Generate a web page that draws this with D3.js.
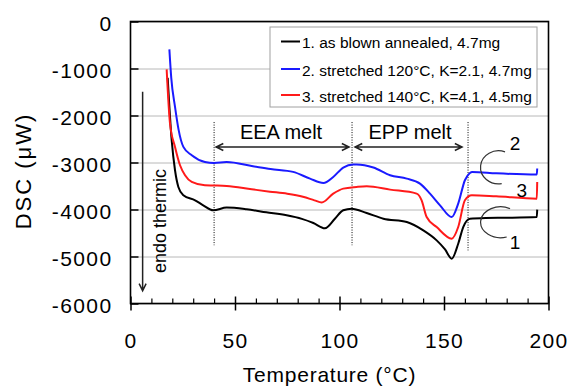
<!DOCTYPE html>
<html>
<head>
<meta charset="utf-8">
<script src="https://cdn.jsdelivr.net/npm/d3@7"></script>
<style>
    body { margin: 0; background: #fff; }
    svg { display: block; font-family: "Liberation Sans", Arial, Helvetica, sans-serif; }
</style>
</head>
<body>
<script>
// values (temperature in C, heat flow in uW)
const tempBlown = [17.8, 19.7, 21.3, 22.9, 25.3, 30.9, 34.8, 39.6, 46, 55.6, 65, 74.7, 82, 87.5, 93, 97.8, 101.8, 105.8, 113, 121, 132.2, 140.1, 146.5, 150.5, 153.7, 156.8, 159.2, 162.4, 170, 180, 194.4, 194.6];
const dscBlown = [-1200, -2525, -3165, -3520, -3698, -3804, -3911, -4017, -3960, -3996, -4060, -4124, -4200, -4288, -4400, -4195, -4017, -3982, -4075, -4195, -4266, -4444, -4657, -4850, -5047, -4728, -4373, -4195, -4180, -4175, -4160, -4003];

const temp120 = [18.6, 19.5, 21.3, 23, 25.3, 29.3, 35.6, 40, 46, 58.6, 67, 77.8, 85.9, 92.3, 97, 101.8, 106.6, 108.2, 116.2, 124.2, 132.2, 138.5, 143.3, 148.1, 153.7, 156.8, 160, 162.4, 163.5, 175, 194.4, 194.6];
const dsc120 = [-592, -1200, -1816, -2300, -2668, -2845, -2988, -3010, -2990, -3080, -3140, -3200, -3343, -3435, -3307, -3107, -3043, -3043, -3107, -3272, -3343, -3449, -3662, -3911, -4160, -3875, -3378, -3222, -3200, -3230, -3257, -3128];

const temp140 = [17.3, 18.9, 21.3, 23.7, 26.1, 29.3, 35.6, 40, 46, 58, 66.7, 75, 82.5, 88, 91.5, 97, 101.8, 108.2, 113, 124.2, 136.9, 139.3, 141.7, 146.5, 153.7, 156.8, 160, 163.3, 175, 194.4, 194.6];
const dsc140 = [-1019, -2170, -2668, -3058, -3272, -3414, -3485, -3490, -3500, -3570, -3620, -3665, -3730, -3805, -3850, -3662, -3556, -3520, -3506, -3577, -3662, -3804, -4160, -4373, -4620, -4373, -3804, -3698, -3720, -3769, -3414];

const xTicks = [0, 50, 100, 150, 200];
const yTicks = [0, -1000, -2000, -3000, -4000, -5000, -6000];
const legendLabels = ["1. as blown annealed, 4.7mg", "2. stretched 120\u00B0C, K=2.1, 4.7mg", "3. stretched 140\u00B0C, K=4.1, 4.5mg"];
const meltBounds = [40, 106, 161.5];
const meltLabels = ["EEA melt", "EPP melt"];
const curveLabels = ["2", "3", "1"];

const width = 570;
const height = 388;
const colors = ["#000000", "#1a1aff", "#ff1a1a"];

var svg = d3.select("body").append("svg")
    .attr("width", width)
    .attr("height", height);

var x = d3.scaleLinear().domain([0, 200]).range([130.5, 548.5]);
var y = d3.scaleLinear().domain([-6000, 0]).range([303.5, 21.5]);

// horizontal grid
var grid = svg.append("g")
    .attr("transform", "translate(" + x(0) + ",0)")
    .call(d3.axisLeft(y).tickValues(yTicks).tickSize(-(x(200) - x(0))).tickFormat(""));
grid.select(".domain").remove();
grid.selectAll("line").attr("stroke", "#b8b8b8").attr("stroke-width", 1);

// legend box sits over the grid
var legend = svg.append("g");
legend.append("rect")
    .attr("x", 270).attr("y", 27)
    .attr("width", 267).attr("height", 80)
    .attr("fill", "#fff")
    .attr("stroke", "#a0a0a0");

legendLabels.forEach(function(label, i) {
    let ly = [41.5, 69, 95][i];
    legend.append("line")
        .attr("x1", 281).attr("x2", 300)
        .attr("y1", ly).attr("y2", ly)
        .attr("stroke", colors[i]).attr("stroke-width", 2);
    legend.append("text")
        .attr("x", 302).attr("y", ly + 6.5)
        .attr("font-size", 15.5)
        .text(label);
});

// axes
var yAxis = svg.append("g")
    .attr("transform", "translate(" + x(0) + ",0)")
    .call(d3.axisLeft(y).tickValues(yTicks).tickSize(-8).tickPadding(18).tickFormat(function(d) { return String(d); }));
yAxis.select(".domain").remove();
yAxis.selectAll("line").attr("stroke", "#000").attr("stroke-width", 1.5);
yAxis.selectAll("text")
    .attr("font-size", 21).attr("letter-spacing", 1.4)
    .attr("dy", "0.42em")
    .attr("fill", "#000").attr("font-family", null);

var xAxis = svg.append("g")
    .attr("transform", "translate(0," + y(-6000) + ")")
    .call(d3.axisBottom(x).tickValues(xTicks).tickSize(7).tickPadding(23));
xAxis.select(".domain").remove();
xAxis.selectAll("line").attr("y1", -7).attr("stroke", "#000").attr("stroke-width", 1.5);
xAxis.selectAll("text")
    .attr("font-size", 21).attr("letter-spacing", 1.4)
    .attr("fill", "#000").attr("font-family", null);

var xMinor = svg.append("g")
    .attr("transform", "translate(0," + y(-6000) + ")")
    .call(d3.axisBottom(x).tickValues(d3.range(10, 200, 10).filter(function(t) { return t % 50 !== 0; })).tickSize(-5).tickFormat(""));
xMinor.select(".domain").remove();
xMinor.selectAll("line").attr("stroke", "#000").attr("stroke-width", 1.2);

svg.append("rect")
    .attr("x", x(0)).attr("y", y(0))
    .attr("width", x(200) - x(0)).attr("height", y(-6000) - y(0))
    .attr("fill", "none")
    .attr("stroke", "#000").attr("stroke-width", 1.6);

// axis titles
svg.append("text")
    .attr("x", (x(0) + x(200)) / 2 - 10).attr("y", 382)
    .attr("text-anchor", "middle")
    .attr("font-size", 21).attr("letter-spacing", 0.75)
    .text("Temperature (\u00B0C)");

svg.append("text")
    .attr("transform", "translate(31,171) rotate(-90)")
    .attr("text-anchor", "middle")
    .attr("font-size", 22).attr("letter-spacing", 2)
    .text("DSC (\u03BCW)");

// melt region markers
meltBounds.forEach(function(t, i) {
    svg.append("line")
        .attr("x1", x(t)).attr("x2", x(t))
        .attr("y1", y(-2140)).attr("y2", y(i == 2 ? -4870 : -4760))
        .attr("stroke", "#000").attr("stroke-width", 1)
        .attr("stroke-dasharray", "1,1.5");
});

function arrow(x1, y1, x2, y2, twoHeads) {
    let a = Math.atan2(y2 - y1, x2 - x1);
    let h = 8, s = 0.45;
    let p = "M" + x1 + "," + y1 + "L" + x2 + "," + y2;
    p += "M" + (x2 - h * Math.cos(a - s)) + "," + (y2 - h * Math.sin(a - s)) + "L" + x2 + "," + y2 +
        "L" + (x2 - h * Math.cos(a + s)) + "," + (y2 - h * Math.sin(a + s));
    if (twoHeads) {
        p += "M" + (x1 + h * Math.cos(a - s)) + "," + (y1 + h * Math.sin(a - s)) + "L" + x1 + "," + y1 +
            "L" + (x1 + h * Math.cos(a + s)) + "," + (y1 + h * Math.sin(a + s));
    }
    svg.append("path")
        .attr("d", p)
        .attr("fill", "none")
        .attr("stroke", "#222").attr("stroke-width", 1.5);
}

arrow(x(meltBounds[0]) + 2, y(-2670), x(meltBounds[1]) - 3, y(-2670), true);
arrow(x(meltBounds[1]) + 3, y(-2670), x(meltBounds[2]) - 6, y(-2670), true);

meltLabels.forEach(function(label, i) {
    svg.append("text")
        .attr("x", (x(meltBounds[i]) + x(meltBounds[i + 1])) / 2 - (i == 0 ? 2 : 0))
        .attr("y", 139)
        .attr("text-anchor", "middle")
        .attr("font-size", 20)
        .text(label);
});

// endo thermic arrow
arrow(x(5.8), y(-1495), x(5.8), y(-5730), false);
svg.append("text")
    .attr("transform", "translate(166,221) rotate(-90)")
    .attr("text-anchor", "middle")
    .attr("font-size", 18)
    .text("endo thermic");

// DSC curves
var line = d3.line()
    .x(function(d) { return x(d[0]); })
    .y(function(d) { return y(d[1]); })
    .curve(d3.curveMonotoneX);

[[tempBlown, dscBlown], [temp120, dsc120], [temp140, dsc140]].forEach(function(s, i) {
    svg.append("path")
        .datum(d3.zip(s[0], s[1]))
        .attr("d", line)
        .attr("fill", "none")
        .attr("stroke", colors[i])
        .attr("stroke-width", 2);
});

// curve number tags with bracket arcs
var tagPos = [[184, -2734], [187.2, -3740], [184, -4848]];
curveLabels.forEach(function(label, i) {
    svg.append("text")
        .attr("x", x(tagPos[i][0])).attr("y", y(tagPos[i][1]))
        .attr("text-anchor", "middle")
        .attr("font-size", 19)
        .text(label);
});

[[179.2, -2775, 177.6, -3448, 18, 16.5], [181.6, -3981, 180, -4586, 20, 15.5]].forEach(function(c) {
    svg.append("path")
        .attr("d", "M" + x(c[0]) + "," + y(c[1]) + " A" + c[4] + "," + c[5] + " 0 1,0 " + x(c[2]) + "," + y(c[3]))
        .attr("fill", "none")
        .attr("stroke", "#333").attr("stroke-width", 1.2);
});
</script>
</body>
</html>
